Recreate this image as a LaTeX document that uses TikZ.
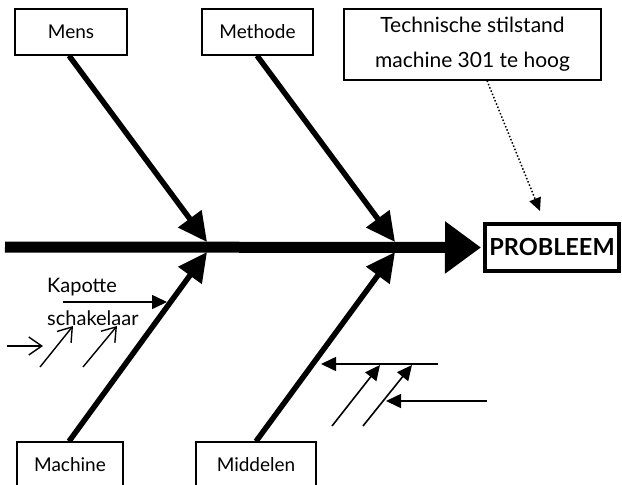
\documentclass[tikz,border=0pt]{standalone}
\usepackage{fontspec}
\setmainfont{Lato}
\usetikzlibrary{arrows.meta}

\begin{document}
\begin{tikzpicture}[x=1pt,y=-1pt,
  font=\fontsize{19}{22}\selectfont,
  cat/.style={draw,line width=1.3pt,minimum height=46pt,inner sep=0pt},
  bone/.style={line width=5.5pt,-{Triangle[length=29pt,width=28pt]}},
  spine/.style={line width=11pt,-{Triangle[length=36pt,width=50pt]}},
  twig/.style={line width=1.6pt,-{Triangle[length=15pt,width=14pt]}},
  barb/.style={line width=1.4pt,-{Straight Barb[length=13pt,width=18pt,line width=1.4pt]}}]
\useasboundingbox (0,0) rectangle (622,485);
% categories
\node[cat,minimum width=112pt] (mens) at (71,32) {Mens};
\node[cat,minimum width=111pt] (methode) at (257.5,32) {Methode};
\node[cat,minimum width=106pt] (machine) at (70,465) {Machine};
\node[cat,minimum width=120pt] (middelen) at (256,465) {Middelen};
\node[draw,line width=1.3pt,minimum width=257pt,minimum height=71pt,inner sep=0pt,
  align=center,font=\fontsize{21}{35}\selectfont] (tech) at (472.5,44.5)
  {Technische stilstand\\machine 301 te hoog};
\node[draw,line width=4pt,minimum width=134pt,minimum height=47pt,inner sep=0pt,
  font=\fontsize{23.5}{26}\selectfont\bfseries] (probleem) at (552,247.5) {PROBLEEM};
% spine and bones
\coordinate (tail) at (5,247);
\coordinate (j1a) at (207,242);
\coordinate (j1b) at (207,252);
\coordinate (j2a) at (395,242);
\coordinate (j2b) at (395,252);
\draw[spine] (tail) -- ([xshift=-2pt]probleem.west);
\draw[bone] ([xshift=-2pt]mens.south) -- (j1a);
\draw[bone] ([xshift=-0.5pt]methode.south) -- (j2a);
\draw[bone] ([xshift=-1pt]machine.north) -- (j1b);
\draw[bone] (middelen.north) -- (j2b);
\draw[dotted,line width=1.5pt,-{Triangle[length=13pt,width=12pt]}]
  ([xshift=14.5pt]tech.south) -- (540,211);
% sub causes machine
\node[anchor=west,inner sep=0pt,font=\fontsize{20}{22}\selectfont] (kap) at (47,287) {Kapotte};
\node[anchor=west,inner sep=0pt,font=\fontsize{20}{22}\selectfont] (schak) at (47,318) {schakelaar};
\coordinate (k1) at (63,302);
\coordinate (k2) at (167,302);
\draw[twig] (k1) -- (k2);
\coordinate (s1) at (7,346);
\coordinate (s2) at (43,346);
\coordinate (s3) at (40,367);
\coordinate (s4) at (73,326);
\coordinate (s5) at (83,367);
\coordinate (s6) at (117,326);
\draw[barb] (s1) -- (s2);
\draw[barb] (s3) -- (s4);
\draw[barb] (s5) -- (s6);
% sub causes middelen
\coordinate (r1) at (438,364);
\coordinate (r2) at (321,364);
\coordinate (r3) at (332,426);
\coordinate (r4) at (380,365);
\coordinate (r5) at (363,426);
\coordinate (r6) at (412,365);
\coordinate (r7) at (487,401);
\coordinate (r8) at (386,401);
\draw[twig] (r1) -- (r2);
\draw[twig] (r3) -- (r4);
\draw[twig] (r5) -- (r6);
\draw[twig] (r7) -- (r8);
\end{tikzpicture}
\end{document}
